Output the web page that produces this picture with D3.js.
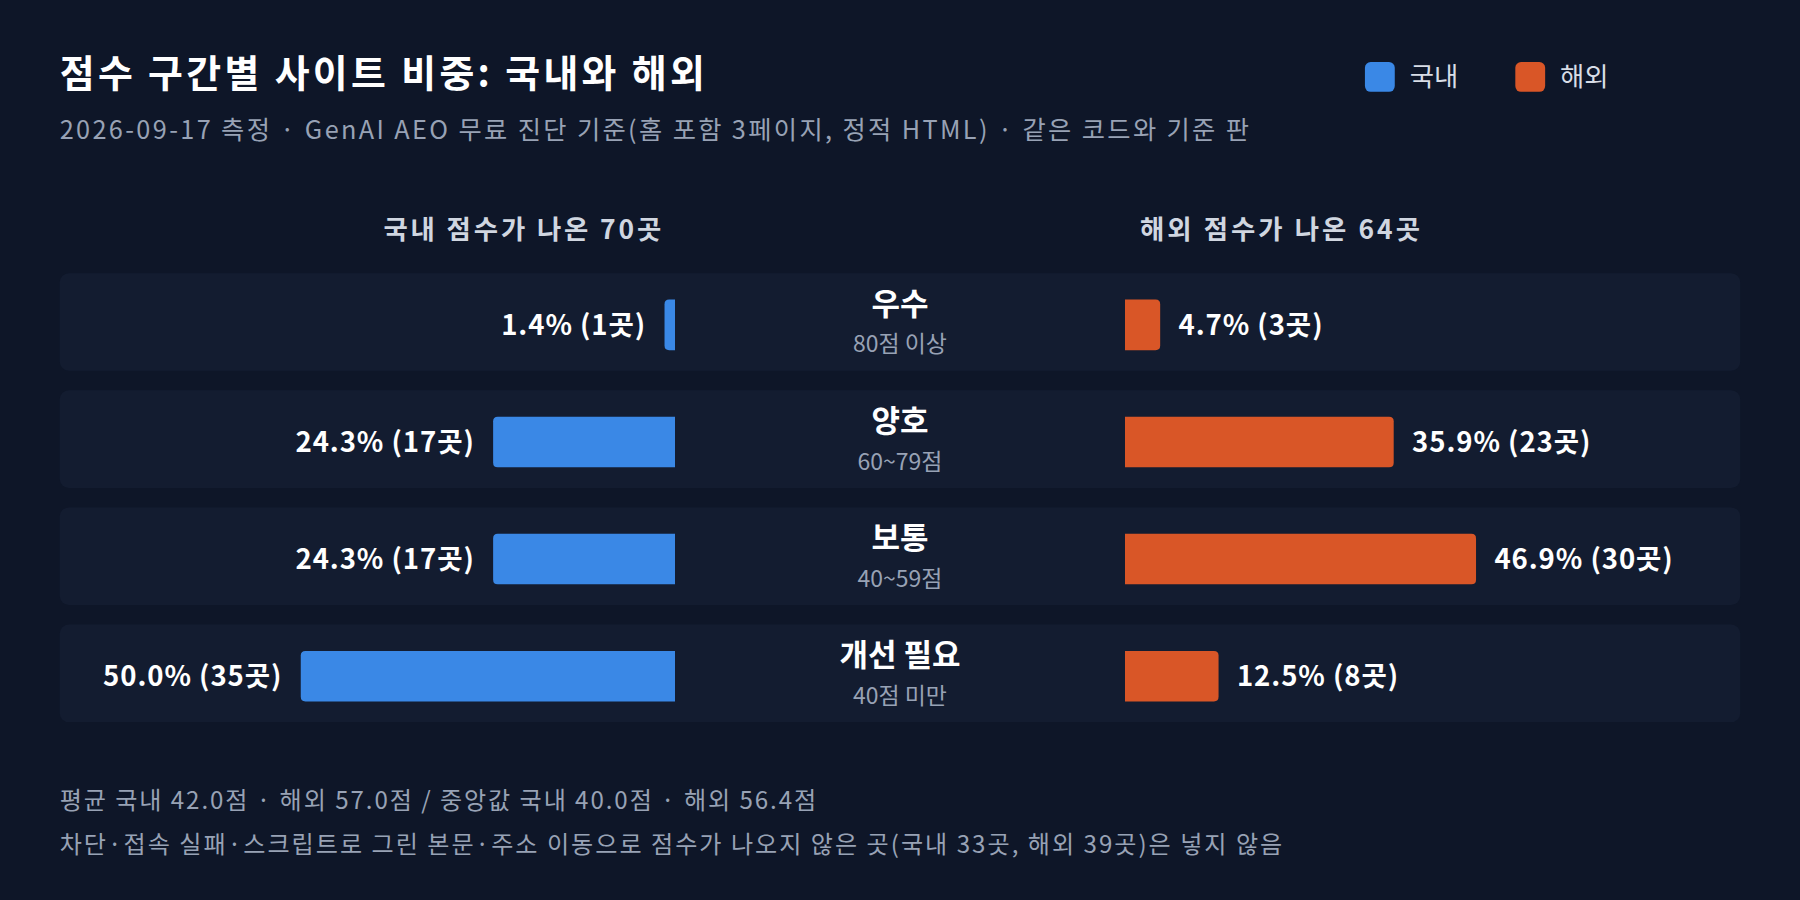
<!DOCTYPE html>
<html>
<head>
<meta charset="utf-8">
<style>
  html, body { margin: 0; padding: 0; background: #0e1628; }
  svg { display: block; }
  text { font-family: "Noto Sans CJK KR", "Noto Sans", sans-serif; }
</style>
<script src="https://d3js.org/d3.v7.min.js"></script>
</head>
<body>
<script>
  // data
  var categories = ["우수", "양호", "보통", "개선 필요"];
  var ranges = ["80점 이상", "60~79점", "40~59점", "40점 미만"];
  var domesticPct = [1.4, 24.3, 24.3, 50.0];
  var domesticCnt = [1, 17, 17, 35];
  var overseasPct = [4.7, 35.9, 46.9, 12.5];
  var overseasCnt = [3, 23, 30, 8];
  var legendLabels = ["국내", "해외"];
  var colors = ["#3a88e6", "#d95627"];

  var W = 1568, H = 784;
  var svg = d3.select("body").append("svg")
    .attr("width", 1800).attr("height", 900)
    .attr("viewBox", "0 0 " + W + " " + H);
  svg.append("rect").attr("width", W).attr("height", H).attr("fill", "#0e1628");

  svg.append("text").attr("x", 52).attr("y", 76).attr("fill", "#ffffff")
    .attr("font-size", 33).attr("font-weight", 700)
    .attr("textLength", 562).attr("lengthAdjust", "spacing")
    .text("점수 구간별 사이트 비중: 국내와 해외");
  svg.append("text").attr("x", 52).attr("y", 121).attr("fill", "#98a2b5")
    .attr("font-size", 22).attr("textLength", 1036).attr("lengthAdjust", "spacing")
    .text("2026-09-17 측정 · GenAI AEO 무료 진단 기준(홈 포함 3페이지, 정적 HTML) · 같은 코드와 기준 판");

  // legend
  var lx = [1189, 1320];
  legendLabels.forEach(function (l, i) {
    svg.append("rect").attr("x", lx[i]).attr("y", 54).attr("width", 26).attr("height", 26)
      .attr("rx", 5).attr("fill", colors[i]);
    svg.append("text").attr("x", lx[i] + 39).attr("y", 75).attr("fill", "#d8dde6")
      .attr("font-size", 23).text(l);
  });

  svg.append("text").attr("x", 455).attr("y", 208).attr("text-anchor", "middle")
    .attr("fill", "#d0d6e0").attr("font-size", 23).attr("font-weight", 600)
    .attr("textLength", 242).attr("lengthAdjust", "spacing")
    .text("국내 점수가 나온 70곳");
  svg.append("text").attr("x", 1115).attr("y", 208).attr("text-anchor", "middle")
    .attr("fill", "#d0d6e0").attr("font-size", 23).attr("font-weight", 600)
    .attr("textLength", 244).attr("lengthAdjust", "spacing")
    .text("해외 점수가 나온 64곳");

  var y = d3.scaleBand().domain(d3.range(categories.length)).range([238, 629])
    .paddingInner(17 / 102).paddingOuter(0);
  var xL = d3.scaleLinear().domain([0, 50]).range([588, 262]);
  var xR = d3.scaleLinear().domain([0, 50]).range([980, 1306]);

  var rows = svg.selectAll("g.row").data(categories).enter().append("g")
    .attr("transform", function (d, i) { return "translate(0," + y(i) + ")"; });
  var bh = y.bandwidth();

  rows.append("rect").attr("x", 52).attr("width", 1464).attr("height", bh)
    .attr("rx", 8).attr("fill", "#131c30");

  rows.append("text").attr("x", 784).attr("y", 36).attr("text-anchor", "middle")
    .attr("fill", "#ffffff").attr("font-size", 27).attr("font-weight", 700)
    .text(function (d) { return d; });
  rows.append("text").attr("x", 784).attr("y", 69).attr("text-anchor", "middle")
    .attr("fill", "#98a2b5").attr("font-size", 20)
    .text(function (d, i) { return ranges[i]; });

  var barY = 23, barH = 44, r = 4;
  function leftPath(x0, x1) {
    var rr = Math.min(r, (x1 - x0) / 2);
    return "M" + x1 + "," + barY + "H" + (x0 + rr) + "Q" + x0 + "," + barY + " " + x0 + "," + (barY + rr) +
      "V" + (barY + barH - rr) + "Q" + x0 + "," + (barY + barH) + " " + (x0 + rr) + "," + (barY + barH) + "H" + x1 + "Z";
  }
  function rightPath(x0, x1) {
    var rr = Math.min(r, (x1 - x0) / 2);
    return "M" + x0 + "," + barY + "H" + (x1 - rr) + "Q" + x1 + "," + barY + " " + x1 + "," + (barY + rr) +
      "V" + (barY + barH - rr) + "Q" + x1 + "," + (barY + barH) + " " + (x1 - rr) + "," + (barY + barH) + "H" + x0 + "Z";
  }

  rows.append("path").attr("fill", colors[0])
    .attr("d", function (d, i) { return leftPath(xL(domesticPct[i]), xL(0)); });
  rows.append("path").attr("fill", colors[1])
    .attr("d", function (d, i) { return rightPath(xR(0), xR(overseasPct[i])); });

  rows.append("text").attr("x", function (d, i) { return xL(domesticPct[i]) - 16; })
    .attr("y", barY + barH / 2 + 9).attr("text-anchor", "end")
    .attr("fill", "#ffffff").attr("font-size", 24).attr("font-weight", 700)
    .attr("letter-spacing", 0.8)
    .text(function (d, i) { return domesticPct[i].toFixed(1) + "% (" + domesticCnt[i] + "곳)"; });
  rows.append("text").attr("x", function (d, i) { return xR(overseasPct[i]) + 16; })
    .attr("y", barY + barH / 2 + 9)
    .attr("fill", "#ffffff").attr("font-size", 24).attr("font-weight", 700)
    .attr("letter-spacing", 0.8)
    .text(function (d, i) { return overseasPct[i].toFixed(1) + "% (" + overseasCnt[i] + "곳)"; });

  svg.append("text").attr("x", 52).attr("y", 705).attr("fill", "#98a2b5").attr("font-size", 21)
    .attr("textLength", 659).attr("lengthAdjust", "spacing")
    .text("평균 국내 42.0점 · 해외 57.0점 / 중앙값 국내 40.0점 · 해외 56.4점");
  svg.append("text").attr("x", 52).attr("y", 743).attr("fill", "#98a2b5").attr("font-size", 21)
    .attr("textLength", 1065).attr("lengthAdjust", "spacing")
    .text("차단·접속 실패·스크립트로 그린 본문·주소 이동으로 점수가 나오지 않은 곳(국내 33곳, 해외 39곳)은 넣지 않음");
</script>
</body>
</html>
